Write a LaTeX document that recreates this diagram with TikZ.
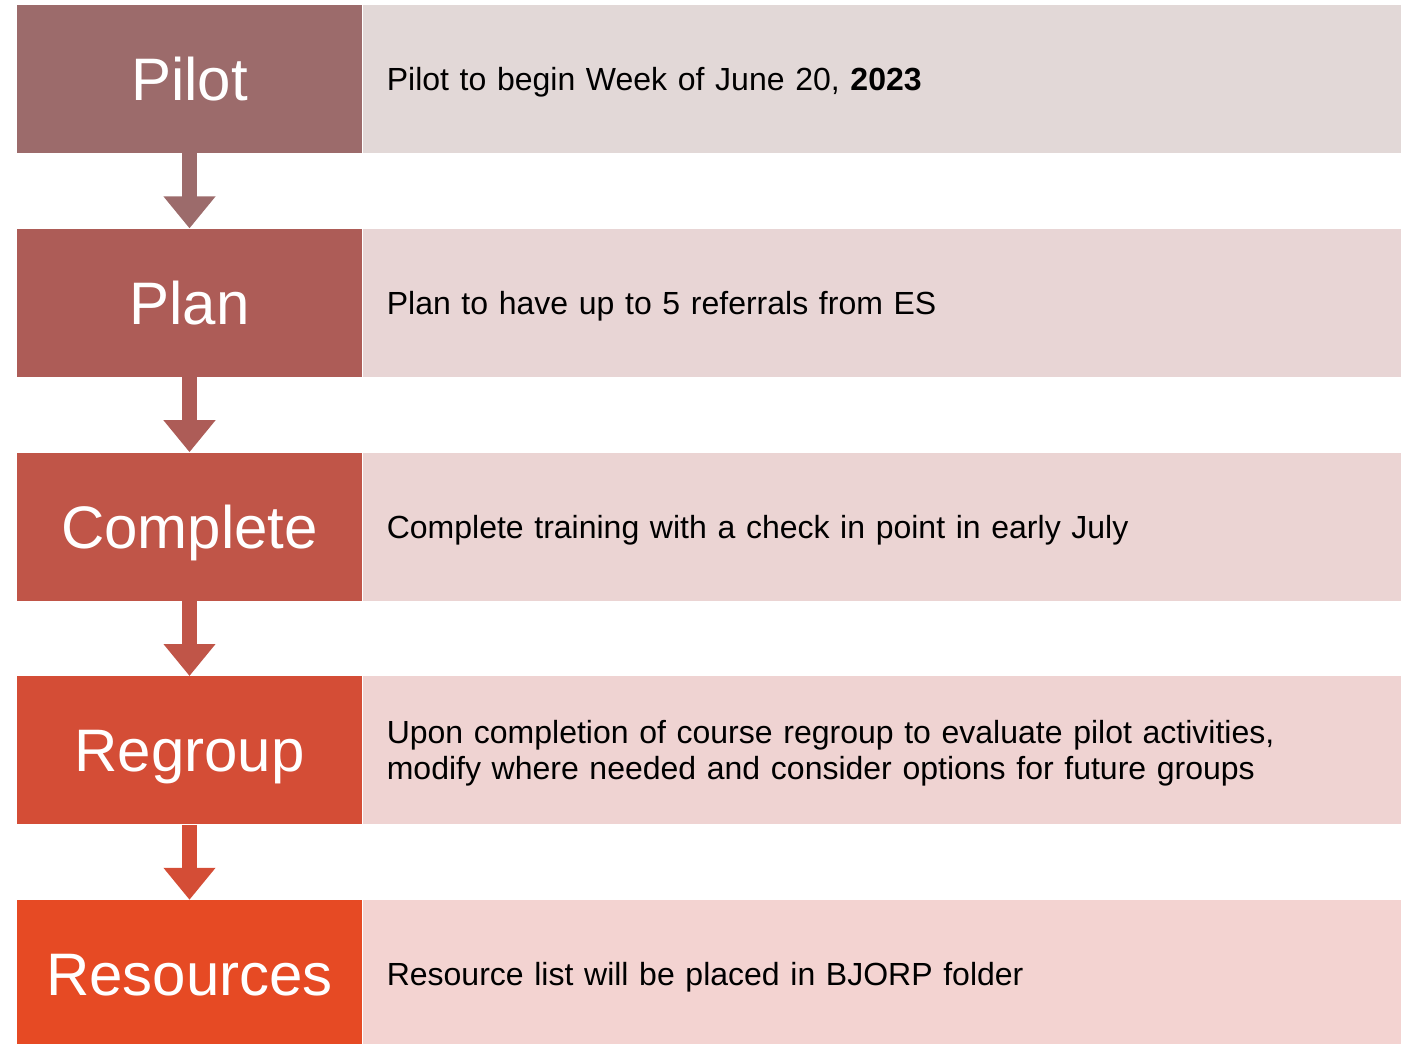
\documentclass[tikz,border=0pt]{standalone}
\usepackage{fontspec}
\setmainfont{Liberation Sans}
\usetikzlibrary{positioning,arrows.meta}

\definecolor{pilotc}{HTML}{9C6B6B}
\definecolor{planc}{HTML}{AD5C57}
\definecolor{completec}{HTML}{C05548}
\definecolor{regroupc}{HTML}{D44D36}
\definecolor{resourcesc}{HTML}{E64A24}
\definecolor{pilotn}{HTML}{E2D8D7}
\definecolor{plann}{HTML}{E8D5D5}
\definecolor{completen}{HTML}{EBD4D3}
\definecolor{regroupn}{HTML}{EFD3D2}
\definecolor{resourcesn}{HTML}{F3D3D1}

\begin{document}
\begin{tikzpicture}[x=0.5pt,y=-0.5pt,
	stepbox/.style={rectangle, inner sep=0pt, minimum width=172.5pt, minimum height=74pt,
		text=white, font=\fontsize{30}{36}\selectfont, text height=21.5pt, text depth=0pt},
	notebox/.style={rectangle, inner xsep=12pt, inner ysep=0pt, text width=495pt,
		minimum height=74pt, align=left, font=\fontsize{16}{18}\selectfont,
		text height=11.5pt, text depth=0pt},
	flow/.style={line width=7.5pt, -{Triangle[length=16pt,width=25pt]}}]
	\useasboundingbox (0,0) rectangle (1412,1043);
	\clip (0,0) rectangle (1412,1043);
	% steps on the left
	\node [stepbox, fill=pilotc] (pilot) at (189.5,79) {Pilot};
	\node [stepbox, fill=planc, below=37.5pt of pilot] (plan) {Plan};
	\node [stepbox, fill=completec, below=37.5pt of plan] (complete) {Complete};
	\node [stepbox, fill=regroupc, below=37.5pt of complete] (regroup) {Regroup};
	\node [stepbox, fill=resourcesc, below=37.5pt of regroup] (resources) {Resources};
	% notes on the right
	\node [notebox, fill=pilotn, right=0pt of pilot] (pilotnote) {Pilot to begin Week of June 20, \textbf{2023}};
	\node [notebox, fill=plann, right=0pt of plan] (plannote) {Plan to have up to 5 referrals from ES};
	\node [notebox, fill=completen, right=0pt of complete] (completenote) {Complete training with a check in point in early July};
	\node [notebox, fill=regroupn, right=0pt of regroup, text depth=18pt] (regroupnote) {Upon completion of course regroup to evaluate pilot activities,\\modify where needed and consider options for future groups};
	\node [notebox, fill=resourcesn, right=0pt of resources] (resourcesnote) {Resource list will be placed in BJORP folder};
	% arrows between steps
	\draw [flow, pilotc] (pilot.south) -- (plan.north);
	\draw [flow, planc] (plan.south) -- (complete.north);
	\draw [flow, completec] (complete.south) -- (regroup.north);
	\draw [flow, regroupc] (regroup.south) -- (resources.north);
\end{tikzpicture}
\end{document}
